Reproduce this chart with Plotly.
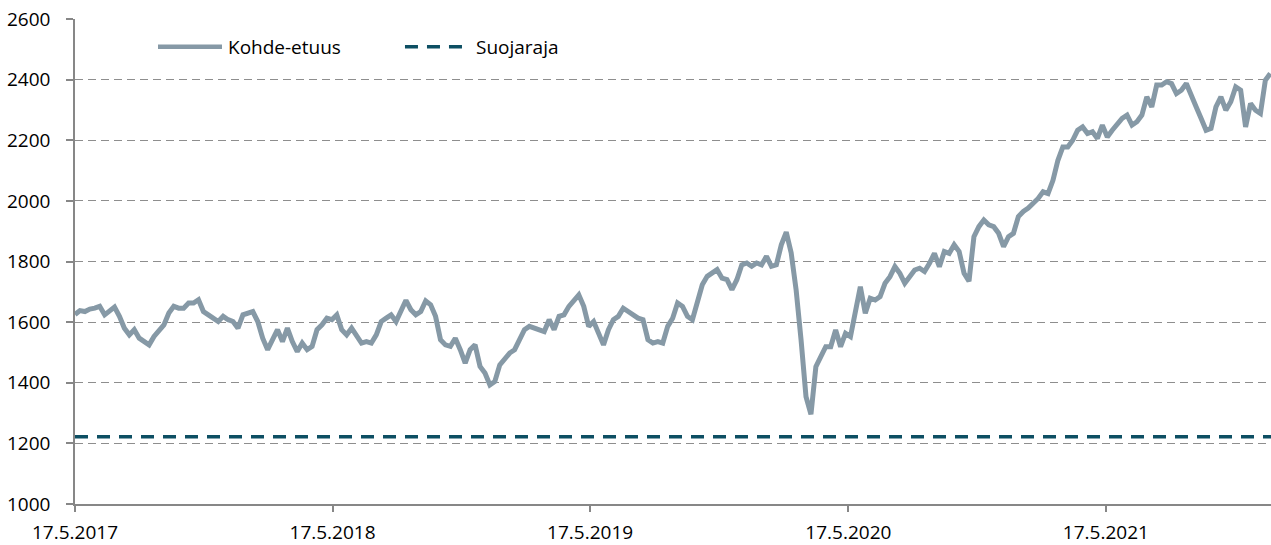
import pandas as pd
import plotly.graph_objects as go

start_date = "2017-05-17"
kohde_values = [
    1625, 1638, 1635, 1643, 1646, 1652, 1624, 1635, 1650, 1619,
    1580, 1558, 1575, 1547, 1536, 1525, 1553, 1575, 1591, 1630,
    1652, 1646, 1646, 1663, 1663, 1674, 1635, 1624, 1613, 1602,
    1619, 1608, 1602, 1580, 1624, 1630, 1635, 1602, 1547, 1509,
    1542, 1575, 1536, 1580, 1536, 1503, 1531, 1509, 1520, 1575,
    1591, 1613, 1608, 1624, 1575, 1558, 1580, 1558, 1531, 1536,
    1531, 1558, 1602, 1613, 1624, 1602, 1641, 1672, 1641, 1624,
    1635, 1670, 1657, 1619, 1542, 1525, 1520, 1547, 1509, 1465,
    1509, 1525, 1454, 1432, 1393, 1404, 1459, 1476, 1498, 1509,
    1542, 1575, 1586, 1580, 1575, 1569, 1608, 1575, 1619, 1624,
    1652, 1674, 1690, 1652, 1586, 1602, 1564, 1525, 1575, 1608,
    1619, 1646, 1635, 1624, 1613, 1608, 1542, 1531, 1536, 1531,
    1586, 1613, 1663, 1652, 1619, 1608, 1663, 1723, 1751, 1762,
    1773, 1745, 1740, 1707, 1740, 1789, 1795, 1784, 1795, 1789,
    1817, 1784, 1789, 1855, 1897, 1828, 1706, 1541, 1354, 1296,
    1453, 1486, 1519, 1519, 1574, 1519, 1563, 1552, 1629, 1717,
    1629, 1679, 1673, 1684, 1728, 1750, 1783, 1761, 1728, 1750,
    1772, 1778, 1767, 1794, 1827, 1783, 1833, 1827, 1855, 1833,
    1761, 1735, 1882, 1915, 1937, 1921, 1915, 1893, 1849, 1882,
    1893, 1948, 1965, 1976, 1992, 2008, 2030, 2024, 2068, 2134,
    2178, 2178, 2200, 2233, 2244, 2222, 2228, 2206, 2250, 2211,
    2233, 2250, 2272, 2283, 2250, 2261, 2283, 2343, 2310, 2382,
    2382, 2393, 2387, 2354, 2365, 2387, 2343, 2310, 2272, 2233,
    2239, 2310, 2343, 2299, 2327, 2376, 2365, 2244, 2321, 2299,
    2288, 2398, 2420,
]
suojaraja_level = 1222
series_names = ["Kohde-etuus", "Suojaraja"]
x_tick_dates = ["2017-05-17", "2018-05-17", "2019-05-17", "2020-05-17", "2021-05-17"]
x_tick_labels = ["17.5.2017", "17.5.2018", "17.5.2019", "17.5.2020", "17.5.2021"]
y_tick_values = [1000, 1200, 1400, 1600, 1800, 2000, 2200, 2400, 2600]
x_range = ["2017-05-17", "2022-01-06"]
y_range = [1000, 2600]

# ---- styles ----
KOHDE_COLOR = "#8699a6"
SUOJA_COLOR = "#0d4f63"
AXIS_COLOR = "#878787"
GRID_COLOR = "#8e8e8e"
FONT = dict(family="Open Sans, Noto Sans, sans-serif", size=19, color="#000000")

dates = pd.date_range(start_date, periods=len(kohde_values), freq="7D")

fig = go.Figure()
fig.add_trace(go.Scatter(
    x=dates, y=kohde_values, mode="lines", name=series_names[0],
    line=dict(color=KOHDE_COLOR, width=5), showlegend=False,
))
fig.add_trace(go.Scatter(
    x=x_range, y=[suojaraja_level, suojaraja_level], mode="lines", name=series_names[1],
    line=dict(color=SUOJA_COLOR, width=3.5, dash="13px,9px"), showlegend=False,
))

# manual legend (long line samples as in the reference)
legend_y = 0.943
fig.add_shape(type="line", xref="paper", yref="paper", x0=0.0694, x1=0.1229,
              y0=legend_y, y1=legend_y, line=dict(color=KOHDE_COLOR, width=4.5))
fig.add_annotation(xref="paper", yref="paper", x=0.1265, y=legend_y, text=series_names[0],
                   showarrow=False, xanchor="left", yanchor="middle", font=FONT)
fig.add_shape(type="line", xref="paper", yref="paper", x0=0.2759, x1=0.3286,
              y0=legend_y, y1=legend_y, line=dict(color=SUOJA_COLOR, width=3.5, dash="13px,9px"))
fig.add_annotation(xref="paper", yref="paper", x=0.3335, y=legend_y, text=series_names[1],
                   showarrow=False, xanchor="left", yanchor="middle", font=FONT)

fig.update_layout(
    width=1271, height=545,
    margin=dict(l=75, r=0, t=19, b=41),
    paper_bgcolor="white", plot_bgcolor="white",
    font=FONT,
    showlegend=False,
)
fig.update_xaxes(
    type="date", range=x_range,
    tickvals=x_tick_dates, ticktext=x_tick_labels,
    showgrid=False, zeroline=False, automargin=False,
    showline=True, linecolor=AXIS_COLOR, linewidth=1.5,
    ticks="outside", ticklen=6, tickcolor=AXIS_COLOR, tickwidth=1.5,
    ticklabelstandoff=4, ticklabeloverflow="allow",
)
fig.update_yaxes(
    range=y_range, tickvals=y_tick_values,
    showgrid=True, gridcolor=GRID_COLOR, gridwidth=1.3, griddash="8px,5px",
    zeroline=False, automargin=False,
    showline=True, linecolor=AXIS_COLOR, linewidth=1.5,
    ticks="outside", ticklen=7, tickcolor=AXIS_COLOR, tickwidth=1.5,
    ticklabelstandoff=12, ticklabeloverflow="allow",
)

# remove the default page margin so the figure fills the window exactly
fig.write_html(
    "out.html",
    config={"displayModeBar": False},
    post_script="document.body.style.margin='0';document.body.style.overflow='hidden';",
)
